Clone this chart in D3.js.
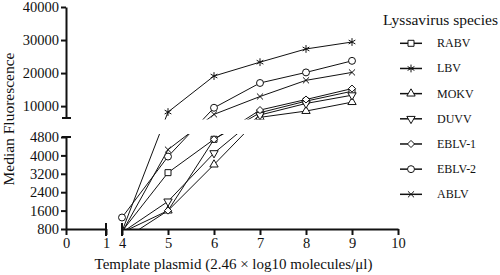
<!DOCTYPE html>
<html>
<head>
<meta charset="utf-8">
<script src="https://cdn.jsdelivr.net/npm/d3@7"></script>
<style>
	body { margin: 0; background: #fff; }
	svg text { font-family: "Liberation Serif", "Times New Roman", serif; fill: #111; }
</style>
</head>
<body>
<svg id="plot"></svg>
<script>
const WIDTH = 500;
const HEIGHT = 275;

// data (x = log10 copies, y = median fluorescence)
const X_VALUES = [4, 5, 6, 7, 8, 9];
const SPECIES = ["RABV", "LBV", "MOKV", "DUVV", "EBLV-1", "EBLV-2", "ABLV"];
const RABV = [700, 3250, 4700, 8000, 11500, 14500];
const LBV = [700, 8200, 19100, 23300, 27300, 29400];
const MOKV = [300, 1600, 3600, 6600, 8500, 11200];
const DUVV = [650, 2000, 4100, 7300, 10800, 13300];
const EBLV1 = [650, 1600, 4700, 8800, 12000, 15300];
const EBLV2 = [1300, 3950, 9500, 17000, 20200, 23700];
const ABLV = [650, 4250, 7500, 12900, 17800, 20200];
const SERIES = [RABV, LBV, MOKV, DUVV, EBLV1, EBLV2, ABLV];

const X_TICKS_LEFT = [0, 1];
const X_TICKS_RIGHT = [4, 5, 6, 7, 8, 9, 10];
const Y_TICKS_BOTTOM = [800, 1600, 2400, 3200, 4000, 4800];
const Y_TICKS_TOP = [10000, 20000, 30000, 40000];

const FONT = "Liberation Serif";

const plot = d3.select("#plot").attr("width", WIDTH).attr("height", HEIGHT);

// broken axes: two segments each
const xLeft = d3.scaleLinear([0, 1], [66, 106]);
const xRight = d3.scaleLinear([4, 10], [122, 398]);
const yBottom = d3.scaleLinear([800, 4800], [229, 137]);
const yTop = d3.scaleLinear([6400, 40000], [118, 7]);

// polylinear versions for drawing the data in pixel space across the breaks
const xScale = d3.scaleLinear([0, 1, 4, 10], [66, 106, 122, 398]);
const yScale = d3.scaleLinear([800, 4800, 6400, 40000], [229, 137, 118, 7]);

const defs = plot.append("defs");
defs.append("clipPath").attr("id", "clip-top")
	.append("rect").attr("x", 67).attr("y", 0).attr("width", 340).attr("height", 119.5);
defs.append("clipPath").attr("id", "clip-bottom")
	.append("rect").attr("x", 67).attr("y", 134).attr("width", 340).attr("height", 95);

const SYMBOLS = [
	d3.symbolSquare,
	d3.symbolAsterisk,
	d3.symbolTriangle,
	"triangleDown",
	d3.symbolDiamond2,
	d3.symbolCircle,
	d3.symbolTimes,
];
const SIZES = [36, 42, 30, 30, 32, 38, 26];

function markerPath(i) {
	const type = SYMBOLS[i] === "triangleDown" ? d3.symbolTriangle : SYMBOLS[i];
	return d3.symbol(type, SIZES[i])();
}

function markerTransform(i, x, y) {
	const rot = SYMBOLS[i] === "triangleDown" ? " rotate(180)" : "";
	return `translate(${x},${y})${rot}`;
}

const line = d3.line()
	.x((d, i) => xScale(X_VALUES[i]))
	.y(d => yScale(d));

for (const clip of ["clip-top", "clip-bottom"]) {
	const g = plot.append("g").attr("clip-path", `url(#${clip})`);
	g.selectAll("path.series")
		.data(SERIES)
		.join("path")
		.attr("class", "series")
		.attr("d", d => line(d))
		.attr("fill", "none")
		.attr("stroke", "#111")
		.attr("stroke-width", 1);

	SERIES.forEach((values, si) => {
		g.selectAll(null)
			.data(values.map((v, i) => ({ x: X_VALUES[i], v })).filter(p => p.v >= 800))
			.join("path")
			.attr("d", markerPath(si))
			.attr("transform", p => markerTransform(si, xScale(p.x), yScale(p.v)))
			.attr("fill", "#fff")
			.attr("stroke", "#111")
			.attr("stroke-width", 1);
	});
}

function styleAxis(g) {
	g.attr("font-family", FONT).attr("font-size", 14.5);
	g.selectAll("path.domain").attr("stroke", "#111").attr("stroke-width", 2);
	g.selectAll(".tick line").attr("stroke", "#111").attr("stroke-width", 2);
	g.selectAll(".tick text").attr("fill", "#111");
}

const fmt = d3.format("d");

plot.append("g").attr("transform", "translate(66,0)")
	.call(d3.axisLeft(yBottom).tickValues(Y_TICKS_BOTTOM).tickFormat(fmt)
		.tickSize(5).tickSizeOuter(0).tickPadding(2))
	.call(styleAxis);
plot.append("g").attr("transform", "translate(66,0)")
	.call(d3.axisLeft(yTop).tickValues(Y_TICKS_TOP).tickFormat(fmt)
		.tickSize(5).tickSizeOuter(0).tickPadding(2))
	.call(styleAxis);
plot.append("g").attr("transform", "translate(0,229)")
	.call(d3.axisBottom(xLeft).tickValues(X_TICKS_LEFT).tickFormat(fmt)
		.tickSize(6).tickSizeOuter(0).tickPadding(3))
	.call(styleAxis);
plot.append("g").attr("transform", "translate(0,229)")
	.call(d3.axisBottom(xRight).tickValues(X_TICKS_RIGHT).tickFormat(fmt)
		.tickSize(6).tickSizeOuter(0).tickPadding(3))
	.call(styleAxis);

// end caps at the breaks
const caps = [
	[62, yTop(6400), 71, yTop(6400)],
	[62, yBottom(4800), 71, yBottom(4800)],
	[xLeft(1), 223, xLeft(1), 236],
	[xRight(4), 223, xRight(4), 236],
];
plot.selectAll("line.cap")
	.data(caps)
	.join("line")
	.attr("class", "cap")
	.attr("x1", d => d[0]).attr("y1", d => d[1])
	.attr("x2", d => d[2]).attr("y2", d => d[3])
	.attr("stroke", "#111")
	.attr("stroke-width", 2);

plot.append("text")
	.attr("transform", "translate(14,119) rotate(-90)")
	.attr("text-anchor", "middle")
	.attr("font-size", 15.5)
	.text("Median Fluorescence");

plot.append("text")
	.attr("x", 233.5)
	.attr("y", 269)
	.attr("text-anchor", "middle")
	.attr("font-size", 15)
	.text("Template plasmid (2.46 × log10 molecules/μl)");

// legend
const legend = plot.append("g");
legend.append("text")
	.attr("x", 383)
	.attr("y", 25)
	.attr("font-size", 15.5)
	.text("Lyssavirus species");

const items = legend.selectAll("g.item")
	.data(SPECIES)
	.join("g")
	.attr("class", "item")
	.attr("transform", (d, i) => `translate(0,${43.3 + i * 25.17})`);
items.append("line")
	.attr("x1", 400).attr("x2", 422)
	.attr("stroke", "#111").attr("stroke-width", 1.5);
items.append("path")
	.attr("d", (d, i) => markerPath(i))
	.attr("transform", (d, i) => markerTransform(i, 411, 0))
	.attr("fill", "#fff")
	.attr("stroke", "#111");
items.append("text")
	.attr("x", 437)
	.attr("y", 4)
	.attr("font-size", 12)
	.text(d => d);
</script>
</body>
</html>
